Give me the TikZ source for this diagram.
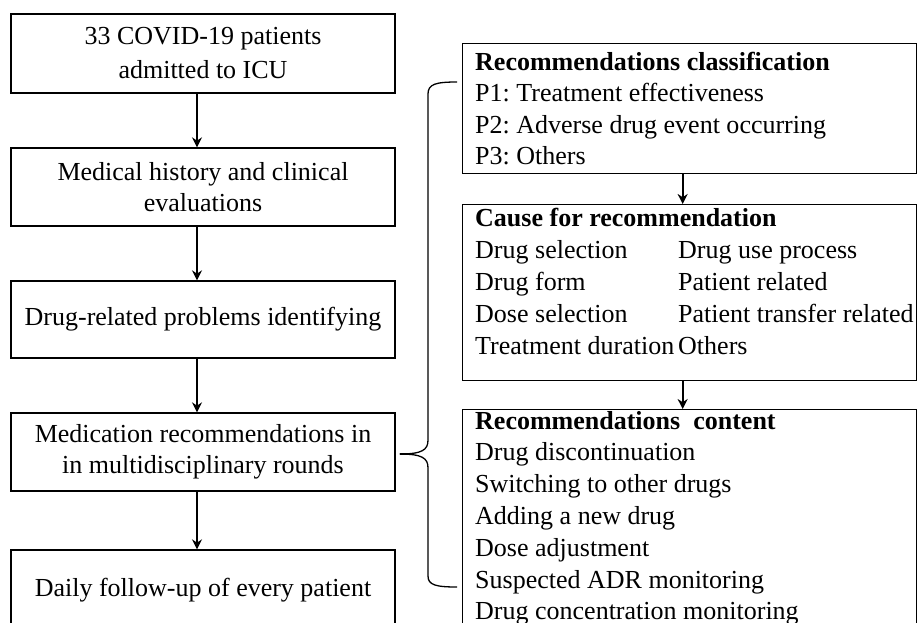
\documentclass[tikz,border=0pt]{standalone}
\usepackage{fontspec}
\setmainfont{Liberation Serif}
\usetikzlibrary{arrows.meta}
\frenchspacing

\begin{document}
\begin{tikzpicture}[x=1pt,y=-1pt,font=\fontsize{26}{31}\selectfont,
    lbox/.style={draw,line width=1.3pt,minimum width=384pt,align=center,inner sep=0pt},
    rbox/.style={draw,line width=1.3pt,minimum width=454pt,anchor=north west,inner sep=0pt},
    item/.style={anchor=base west,inner sep=0pt},
    flow/.style={line width=2.2pt,-{Stealth[length=10pt,width=10pt]}},
    brace/.style={line width=1.3pt}]
        \useasboundingbox (0,0) rectangle (917,622);
        \clip (0,0) rectangle (917,622);
        % left column
        \node[lbox,minimum height=79pt] (adm) at (203,53.5) {33 COVID-19 patients\\[3pt]admitted to ICU};
        \node[lbox,minimum height=78pt] (hist) at (203,187) {Medical history and clinical\\evaluations};
        \node[lbox,minimum height=77pt] (drp) at (203,319.5) {Drug-related problems identifying};
        \node[lbox,minimum height=78pt] (rec) at (203,452) {Medication recommendations in\\in multidisciplinary rounds};
        \node[lbox,minimum height=80pt] (fol) at (203,590) {Daily follow-up of every patient};
        \draw[flow] ([xshift=-6pt]adm.south) -- ([xshift=-6pt]hist.north);
        \draw[flow] ([xshift=-6pt]hist.south) -- ([xshift=-6pt]drp.north);
        \draw[flow] ([xshift=-6pt]drp.south) -- ([xshift=-6pt]rec.north);
        \draw[flow] ([xshift=-6pt]rec.south) -- ([xshift=-6pt]fol.north);
        % right column
        \node[rbox,minimum height=130pt] (cls) at (462,43) {};
        \node[rbox,minimum height=176pt] (cause) at (462,204) {};
        \node[rbox,minimum height=240pt] (cont) at (462,409) {};
        \draw[flow] ([xshift=-7pt]cls.south) -- ([xshift=-7pt]cause.north);
        \draw[flow] ([xshift=-7pt]cause.south) -- ([xshift=-7pt]cont.north);
        \node[item] (cls-t) at (475,70) {\textbf{Recommendations classification}};
        \foreach \txt [count=\i] in {P1: Treatment effectiveness,P2: Adverse drug event occurring,P3: Others}
          \node[item] (cls-\i) at (475,70+31.5*\i) {\txt};
        \node[item] (cause-t) at (475,226) {\textbf{Cause for recommendation}};
        \foreach \a/\b [count=\i] in {Drug selection/Drug use process,Drug form/Patient related,Dose selection/Patient transfer related,Treatment duration/Others}
          {\node[item] (cause-a\i) at (475,226+32*\i) {\a};
           \node[item] (cause-b\i) at (678,226+32*\i) {\b};}
        \node[item] (cont-t) at (475,429) {\textbf{Recommendations\ \ content}};
        \foreach \txt [count=\i] in {Drug discontinuation,Switching to other drugs,Adding a new drug,Dose adjustment,Suspected ADR monitoring,Drug concentration monitoring}
          \node[item] (cont-\i) at (475,429+31.8*\i) {\txt};
        % brace
        \coordinate (brtip) at ([xshift=4pt,yshift=-2pt]rec.east);
        \draw[brace] (457,82) .. controls (436,82) and (428,84) .. (428,94) -- (428,440)
          .. controls (428,450) and (422,454) .. (brtip)
          .. controls (422,454) and (428,458) .. (428,468) -- (428,576)
          .. controls (428,585) and (436,587) .. (457,587);
        \draw[line width=2.4pt] (brtip) -- ++(13,0);
      \end{tikzpicture}
\end{document}
